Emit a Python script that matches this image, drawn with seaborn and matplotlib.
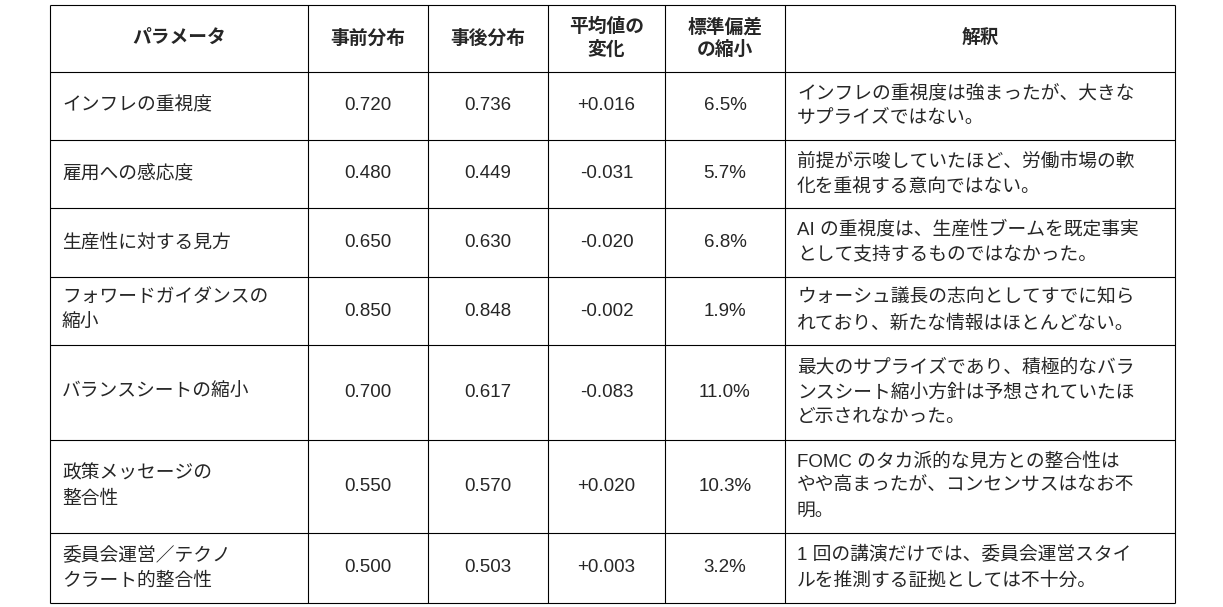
import matplotlib
matplotlib.use("Agg")
import matplotlib.pyplot as plt
import seaborn as sns

headers = ["パラメータ", "事前分布", "事後分布", "平均値の\n変化", "標準偏差\nの縮小", "解釈"]
params = ["インフレの重視度", "雇用への感応度", "生産性に対する見方", "フォワードガイダンスの\n縮小",
          "バランスシートの縮小", "政策メッセージの\n整合性", "委員会運営／テクノ\nクラート的整合性"]
prior = ["0.720", "0.480", "0.650", "0.850", "0.700", "0.550", "0.500"]
posterior = ["0.736", "0.449", "0.630", "0.848", "0.617", "0.570", "0.503"]
mean_change = ["+0.016", "-0.031", "-0.020", "-0.002", "-0.083", "+0.020", "+0.003"]
sd_shrink = ["6.5%", "5.7%", "6.8%", "1.9%", "11.0%", "10.3%", "3.2%"]
notes = ["インフレの重視度は強まったが、大きな\nサプライズではない。",
         "前提が示唆していたほど、労働市場の軟\n化を重視する意向ではない。",
         "AI の重視度は、生産性ブームを既定事実\nとして支持するものではなかった。",
         "ウォーシュ議長の志向としてすでに知ら\nれており、新たな情報はほとんどない。",
         "最大のサプライズであり、積極的なバラ\nンスシート縮小方針は予想されていたほ\nど示されなかった。",
         "FOMC のタカ派的な見方との整合性は\nやや高まったが、コンセンサスはなお不\n明。",
         "1 回の講演だけでは、委員会運営スタイ\nルを推測する証拠としては不十分。"]

col_edges = [50, 308, 428, 548, 665, 785, 1175]
row_edges = [5, 72, 140, 208, 277, 345, 440, 533, 603]

sns.set_theme(style="white")
plt.rcParams['font.family'] = ['Liberation Sans', 'Noto Sans CJK JP', 'DejaVu Sans']

fig = plt.figure(figsize=(12.23, 6.07), dpi=100)
ax = fig.add_axes([0, 0, 1, 1])
ax.set_xlim(0, 1223)
ax.set_ylim(607, 0)
ax.axis("off")

for y in row_edges:
    ax.hlines(y, col_edges[0], col_edges[-1], color="black", lw=0.8)
for x in col_edges:
    ax.vlines(x, row_edges[0], row_edges[-1], color="black", lw=0.8)

fs = 13.5
ls = 1.6
yc = (row_edges[0] + row_edges[1]) / 2
for i, h in enumerate(headers):
    xc = (col_edges[i] + col_edges[i + 1]) / 2
    ax.text(xc, yc, h, ha="center", va="center", fontsize=fs, fontweight="bold", linespacing=1.3)

for r in range(len(params)):
    yc = (row_edges[r + 1] + row_edges[r + 2]) / 2
    ax.text(col_edges[0] + 12, yc, params[r], ha="left", va="center", fontsize=fs, linespacing=ls)
    for c, vals in enumerate([prior, posterior, mean_change, sd_shrink]):
        xc = (col_edges[c + 1] + col_edges[c + 2]) / 2
        ax.text(xc, yc, vals[r], ha="center", va="center", fontsize=fs)
    ax.text(col_edges[5] + 12, yc, notes[r], ha="left", va="center", fontsize=fs, linespacing=ls)

fig.savefig("out.png", dpi=100, facecolor="white")
